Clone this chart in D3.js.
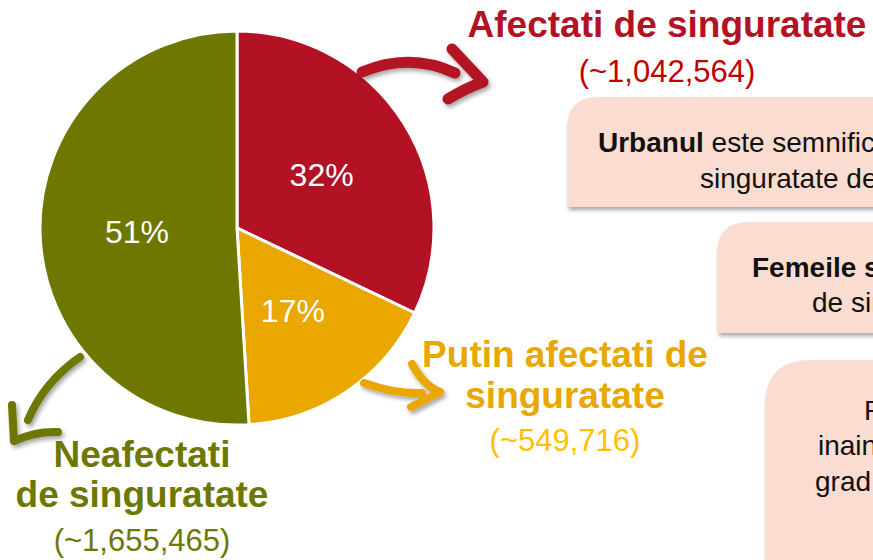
<!DOCTYPE html>
<head>
  <meta charset="utf-8">
  <script src="https://d3js.org/d3.v7.min.js"></script>
  <style>
    body { margin:0; background:#fff; }
    text { font-family: Arial, "Liberation Sans", sans-serif; }
  </style>
</head>
<body>
<script>
  // data
  var categories = ["Afectati de singuratate", "Putin afectati de singuratate", "Neafectati de singuratate"];
  var values = [1042564, 549716, 1655465];
  var pctLabels = ["32%", "17%", "51%"];
  var countLabels = ["(~1,042,564)", "(~549,716)", "(~1,655,465)"];
  var colors = ["#b31224", "#e9a700", "#6e7800"];

  var width = 873, height = 560;
  var cx = 237, cy = 228, r = 197;

  var svg = d3.select("body").append("svg")
    .attr("width", width)
    .attr("height", height);

  var defs = svg.append("defs");
  var f = defs.append("filter").attr("id", "shadow")
    .attr("x", "-20%").attr("y", "-20%").attr("width", "150%").attr("height", "150%");
  f.append("feDropShadow").attr("dx", 2).attr("dy", 3).attr("stdDeviation", 2)
    .attr("flood-color", "#000").attr("flood-opacity", 0.35);

  // text boxes on the right (cut off by the page edge, as in the original slide)
  var boxes = [
    {x: 567, y: 97, h: 110, rad: 32, lines: [
      [{t: "Urbanul", b: true}, {t: " este semnificativ mai afectat de"}],
      [{t: "singuratate decat ruralul"}]], tx: [598, 700], ty: [152, 188]},
    {x: 717, y: 222, h: 111, rad: 32, lines: [
      [{t: "Femeile sunt", b: true}, {t: " mai afectate"}],
      [{t: "de singuratate"}]], tx: [752, 812], ty: [277, 312]},
    {x: 765, y: 360, h: 260, rad: 46, lines: [
      [{t: "Persoanele mai"}],
      [{t: "inaintate in varsta au"}],
      [{t: "grad mai mare de"}]], tx: [864, 818, 815], ty: [420, 455, 491]}
  ];

  boxes.forEach(function(b) {
    var x0 = b.x, y0 = b.y, x1 = width + 40, y1 = b.y + b.h, q = b.rad;
    svg.append("path")
      .attr("d", "M" + x0 + "," + (y0 + q) + " Q" + x0 + "," + y0 + " " + (x0 + q) + "," + y0 +
        " L" + x1 + "," + y0 + " L" + x1 + "," + y1 + " L" + x0 + "," + y1 + " Z")
      .attr("fill", "#fbdcd0")
      .attr("filter", "url(#shadow)");
    b.lines.forEach(function(line, i) {
      var t = svg.append("text")
        .attr("x", b.tx[i]).attr("y", b.ty[i])
        .attr("font-size", 28).attr("fill", "#111");
      line.forEach(function(s) {
        t.append("tspan").attr("font-weight", s.b ? "bold" : "normal").text(s.t);
      });
    });
  });

  // pie
  var pie = d3.pie().sort(null).value(function(d) { return d; });
  var arcs = pie(values);
  var arc = d3.arc().innerRadius(0).outerRadius(r);
  var labelArc = d3.arc().innerRadius(100).outerRadius(100);

  var g = svg.append("g").attr("transform", "translate(" + cx + "," + cy + ")");
  g.selectAll("path")
    .data(arcs)
    .enter().append("path")
    .attr("d", arc)
    .attr("fill", function(d, i) { return colors[i]; })
    .attr("stroke", "#fff")
    .attr("stroke-width", 3);

  g.selectAll("text")
    .data(arcs)
    .enter().append("text")
    .attr("transform", function(d) { return "translate(" + labelArc.centroid(d) + ")"; })
    .attr("text-anchor", "middle")
    .attr("dy", "0.36em")
    .attr("font-size", 32)
    .attr("fill", "#fff")
    .text(function(d, i) { return pctLabels[i]; });

  // arrows
  var arrows = [
    {c: colors[0], w: 11, d: ["M362,72 Q410,52 455,73", "M452,49 L483,82 Q466,88 448,99"]},
    {c: colors[1], w: 8, d: ["M364,383 Q395,394 422,393", "M412,364 Q424,386 440,392 L411,407"]},
    {c: colors[2], w: 8, d: ["M80,357 Q44,382 28,420", "M12,405 L14,441 Q36,431 58,432"]}
  ];
  arrows.forEach(function(a) {
    var ag = svg.append("g").attr("filter", "url(#shadow)");
    a.d.forEach(function(p) {
      ag.append("path").attr("d", p)
        .attr("fill", "none").attr("stroke", a.c)
        .attr("stroke-width", a.w)
        .attr("stroke-linecap", "round").attr("stroke-linejoin", "round");
    });
  });

  // category labels
  var catLabels = [
    {x: 667, lines: ["Afectati de singuratate"], ly: [37], ny: 82, c: "#b31224", nc: "#c00000"},
    {x: 565, lines: ["Putin afectati de", "singuratate"], ly: [367, 408], ny: 451, c: "#e9a700", nc: "#ffc000"},
    {x: 142, lines: ["Neafectati", "de singuratate"], ly: [467, 507], ny: 551, c: "#6e7800", nc: "#6e7800"}
  ];
  catLabels.forEach(function(l, i) {
    l.lines.forEach(function(s, j) {
      svg.append("text")
        .attr("x", l.x).attr("y", l.ly[j])
        .attr("text-anchor", "middle")
        .attr("font-size", 37).attr("font-weight", "bold")
        .attr("fill", l.c).text(s);
    });
    svg.append("text")
      .attr("x", l.x).attr("y", l.ny)
      .attr("text-anchor", "middle")
      .attr("font-size", 31)
      .attr("fill", l.nc).text(countLabels[i]);
  });
</script>
</body>
